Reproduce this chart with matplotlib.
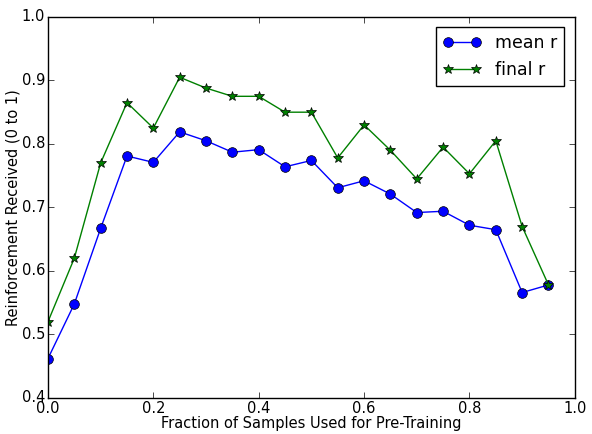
import numpy as np
import matplotlib
matplotlib.use("Agg")
import matplotlib.pyplot as plt

plt.style.use('classic')

frac = [0.0, 0.05, 0.1, 0.15, 0.2, 0.25, 0.3, 0.35, 0.4, 0.45,
        0.5, 0.55, 0.6, 0.65, 0.7, 0.75, 0.8, 0.85, 0.9, 0.95]
mean_r = [0.462, 0.548, 0.667, 0.781, 0.771, 0.819, 0.805, 0.787, 0.791, 0.764,
          0.774, 0.731, 0.742, 0.721, 0.692, 0.694, 0.672, 0.665, 0.566, 0.578]
final_r = [0.520, 0.620, 0.770, 0.865, 0.825, 0.905, 0.888, 0.875, 0.875, 0.850,
           0.850, 0.778, 0.830, 0.790, 0.745, 0.795, 0.753, 0.805, 0.670, 0.578]

fig = plt.figure(figsize=(5.92, 4.34), dpi=100, facecolor='white')
ax = fig.add_axes([0.081, 0.083, 0.890, 0.878])

ax.plot(frac, mean_r, 'bo-', markersize=7, label='mean r')
ax.plot(frac, final_r, 'g*-', markersize=7, label='final r')

ax.set_xlim(0, 1)
ax.set_ylim(0.4, 1.0)
ax.set_xticks(np.arange(0, 1.01, 0.2))
ax.set_yticks(np.arange(0.4, 1.01, 0.1))
ax.tick_params(labelsize=10.5, pad=2)
ax.set_xlabel('Fraction of Samples Used for Pre-Training', fontsize=10.5, labelpad=0)
ax.set_ylabel('Reinforcement Received (0 to 1)', fontsize=10.5, labelpad=1)
ax.legend(loc='upper right', fontsize=12.5, numpoints=2, handlelength=2.2,
          borderaxespad=0.6)

fig.savefig('out.png', dpi=100, facecolor='white')
